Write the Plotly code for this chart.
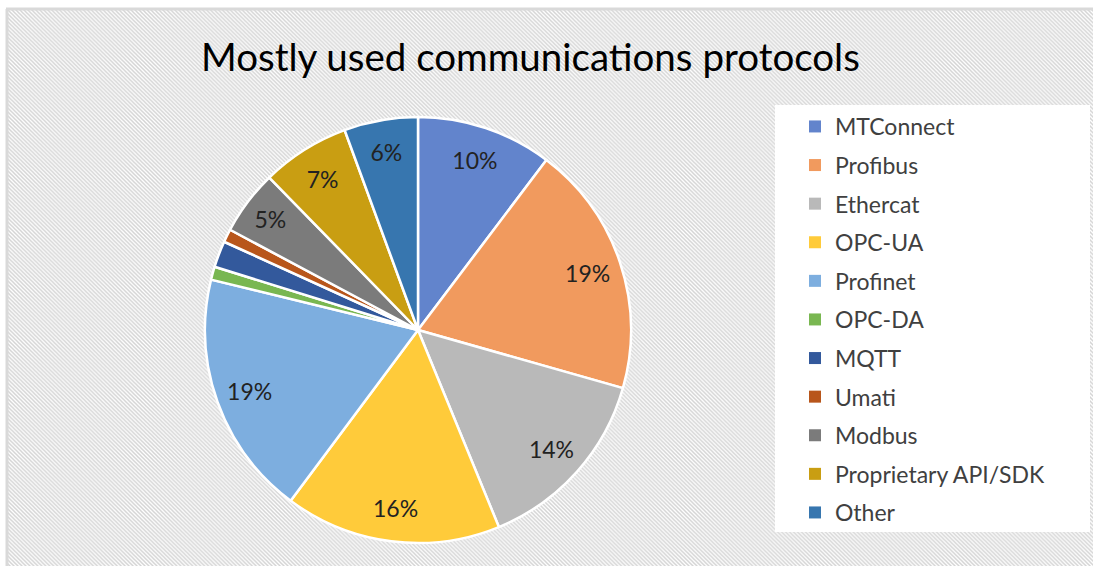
import base64
import plotly.graph_objects as go

# Survey shares of communication protocols (percent of answers)
protocols = ["MTConnect", "Profibus", "Ethercat", "OPC-UA", "Profinet", "OPC-DA",
             "MQTT", "Umati", "Modbus", "Proprietary API/SDK", "Other"]
shares = [10.3, 19.1, 14.4, 16.4, 18.6, 1.0, 2.0, 1.0, 4.9, 6.7, 5.6]
colors = ["#6284CC", "#F19A5E", "#B9B9B9", "#FFCB3A", "#7DAEDF", "#79B751",
          "#33599C", "#B8561B", "#7B7B7B", "#C99E12", "#3776AF"]
title_text = "Mostly used communications protocols"

W, H = 1093, 566
FONT = "Lato, 'Open Sans', sans-serif"

# pie geometry (pixels)
cx, cy, r = 418, 330, 213

# diagonal hatch used for the chart area background
hatch_svg = f"""<svg xmlns='http://www.w3.org/2000/svg' width='{W}' height='{H}' viewBox='0 0 {W} {H}'>
<defs><pattern id='h' width='4' height='4' patternUnits='userSpaceOnUse'>
<rect width='4' height='4' fill='#ffffff'/>
<path d='M-1,-1 L5,5 M-1,3 L1,5 M3,-1 L5,1' stroke='#d4d4d4' stroke-width='1.5'/>
</pattern></defs>
<rect width='{W}' height='{H}' fill='url(#h)'/></svg>"""
hatch_uri = "data:image/svg+xml;base64," + base64.b64encode(hatch_svg.encode()).decode()

dom_x = [(cx - r) / W, (cx + r) / W]
dom_y = [(H - cy - r) / H, (H - cy + r) / H]

fig = go.Figure()

# the slices
fig.add_trace(go.Pie(
    labels=protocols, values=shares, sort=False, direction="clockwise", rotation=0,
    marker=dict(colors=colors, line=dict(color="white", width=2.5)),
    textinfo="none", showlegend=False, domain=dict(x=dom_x, y=dom_y),
    hovertemplate="%{label}: %{percent:.0%}<extra></extra>",
))

# percentage labels placed in an outer ring of the same pie
labels_txt = ["%{percent:.0%}" if v >= 4.5 else "" for v in shares]
fig.add_trace(go.Pie(
    labels=protocols, values=shares, sort=False, direction="clockwise", rotation=0,
    hole=0.68, marker=dict(colors=["rgba(0,0,0,0)"] * len(shares), line=dict(width=0)),
    texttemplate=labels_txt, textposition="inside", insidetextorientation="horizontal",
    textfont=dict(family=FONT, size=23, color="#222222"),
    showlegend=False, hoverinfo="skip", domain=dict(x=dom_x, y=dom_y),
))

# legend entries
for name, col in zip(protocols, colors):
    fig.add_trace(go.Scatter(
        x=[None], y=[None], mode="markers", name=name, legendgroup=name,
        marker=dict(symbol="square", size=10, color=col),
    ))

fig.update_layout(
    width=W, height=H,
    margin=dict(l=0, r=0, t=0, b=0),
    paper_bgcolor="white", plot_bgcolor="rgba(0,0,0,0)",
    xaxis=dict(visible=False), yaxis=dict(visible=False),
    images=[dict(source=hatch_uri, xref="paper", yref="paper",
                 x=8 / W, y=1 - 10 / H, sizex=1 - 8 / W, sizey=1 - 10 / H,
                 xanchor="left", yanchor="top", sizing="stretch", layer="below")],
    shapes=[
        # outer frame (left and top edges)
        dict(type="line", xref="paper", yref="paper", x0=7 / W, x1=7 / W, y0=0, y1=1 - 9 / H,
             line=dict(color="#d9d9d9", width=3)),
        dict(type="line", xref="paper", yref="paper", x0=6 / W, x1=1, y0=1 - 9 / H, y1=1 - 9 / H,
             line=dict(color="#d9d9d9", width=3)),
        # legend panel
        dict(type="rect", xref="paper", yref="paper", x0=775 / W, x1=1090 / W,
             y0=1 - 532 / H, y1=1 - 105 / H, fillcolor="white", line=dict(width=0),
             layer="below"),
    ],
    annotations=[dict(text=title_text, xref="paper", yref="paper", x=530 / W, y=1 - 56 / H,
                      xanchor="center", yanchor="middle", showarrow=False,
                      font=dict(family=FONT, size=38.5, color="#000000"))],
    legend=dict(x=795 / W, y=1 - 105 / H, xanchor="left", yanchor="top",
                bgcolor="rgba(0,0,0,0)", tracegroupgap=5.7, itemsizing="constant",
                font=dict(family=FONT, size=23, color="#404040")),
    showlegend=True,
)

fig.write_html("out.html")
